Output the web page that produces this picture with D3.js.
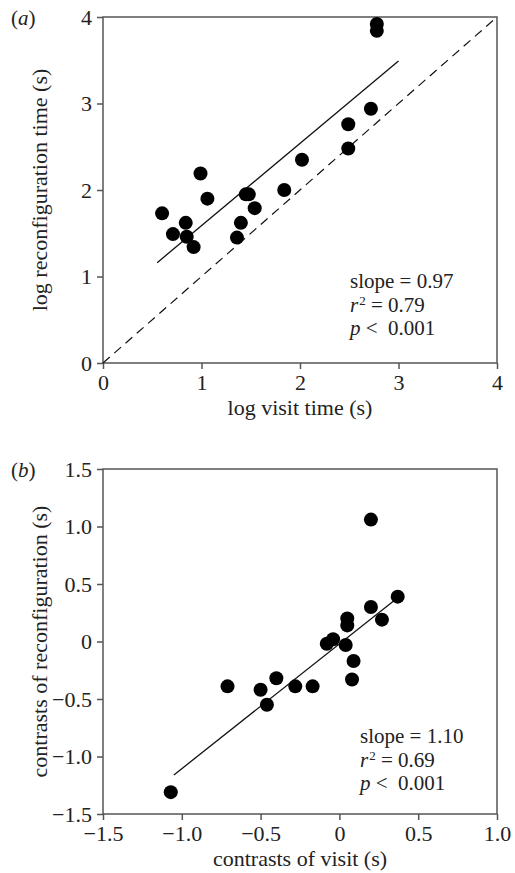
<!DOCTYPE html>
<html>
<head>
<meta charset="utf-8">
<script src="https://cdn.jsdelivr.net/npm/d3@7"></script>
<style>
  body { margin: 0; background: #fff; }
  text { font-family: "Liberation Serif", "DejaVu Serif", serif; fill: #222; }
</style>
</head>
<body>
<div id="chart"></div>
<script>
// panel (a): log visit time vs log reconfiguration time
const visitA = [0.60, 0.71, 0.84, 0.85, 0.92, 0.99, 1.06, 1.36, 1.40, 1.45, 1.48, 1.54, 1.84, 2.02, 2.49, 2.49, 2.72, 2.78, 2.78];
const reconfA = [1.73, 1.49, 1.62, 1.46, 1.34, 2.19, 1.90, 1.45, 1.62, 1.95, 1.95, 1.79, 2.00, 2.35, 2.76, 2.48, 2.94, 3.92, 3.84];
const fitA = [[0.55, 1.16], [3.0, 3.49]];
const identityA = [[0, 0], [4, 4]];
const ticksA = [0, 1, 2, 3, 4];
const statsA = ["slope = 0.97", "0.79", "0.001"];

// panel (b): contrasts
const visitB = [-1.07, -0.71, -0.50, -0.46, -0.40, -0.28, -0.17, -0.08, -0.04, 0.04, 0.05, 0.05, 0.09, 0.08, 0.20, 0.20, 0.27, 0.37];
const reconfB = [-1.31, -0.39, -0.42, -0.55, -0.32, -0.39, -0.39, -0.02, 0.02, -0.03, 0.20, 0.14, -0.17, -0.33, 1.06, 0.30, 0.19, 0.39];
const fitB = [[-1.05, -1.16], [0.37, 0.38]];
const ticksBx = [-1.5, -1.0, -0.5, 0, 0.5, 1.0];
const ticksBy = [-1.5, -1.0, -0.5, 0, 0.5, 1.0, 1.5];
const statsB = ["slope = 1.10", "0.69", "0.001"];

const width = 515, height = 873;
const svg = d3.select("#chart").append("svg")
  .attr("width", width)
  .attr("height", height);

function panel(opts) {
  const x = d3.scaleLinear().domain(opts.xdom).range([103, 497]);
  const y = d3.scaleLinear().domain(opts.ydom).range([opts.bottom, opts.top]);
  const g = svg.append("g");

  // frame
  g.append("rect")
    .attr("x", 103).attr("y", opts.top)
    .attr("width", 394).attr("height", opts.bottom - opts.top)
    .attr("fill", "none").attr("stroke", "#555").attr("stroke-width", 1.5);

  const xa = g.append("g")
    .attr("transform", `translate(0,${opts.bottom})`)
    .call(d3.axisBottom(x).tickValues(opts.xticks).tickSize(6).tickPadding(5).tickFormat(opts.tf));
  const ya = g.append("g")
    .attr("transform", "translate(103,0)")
    .call(d3.axisLeft(y).tickValues(opts.yticks).tickSize(6).tickPadding(5).tickFormat(opts.tf));
  [xa, ya].forEach(a => {
    a.select(".domain").remove();
    a.selectAll("line").attr("stroke", "#555").attr("stroke-width", 1.5);
    a.selectAll("text")
      .style("font-family", "'Liberation Serif', serif")
      .style("font-size", "22px")
      .attr("fill", "#222");
  });

  const line = d3.line().x(d => x(d[0])).y(d => y(d[1]));
  if (opts.identity) {
    g.append("path").attr("d", line(opts.identity))
      .attr("fill", "none").attr("stroke", "#111")
      .attr("stroke-width", 1.2).attr("stroke-dasharray", "9,6");
  }
  g.append("path").attr("d", line(opts.fit))
    .attr("fill", "none").attr("stroke", "#111").attr("stroke-width", 1.3);

  g.selectAll("circle")
    .data(opts.xs.map((v, i) => [v, opts.ys[i]]))
    .join("circle")
    .attr("cx", d => x(d[0]))
    .attr("cy", d => y(d[1]))
    .attr("r", 7)
    .attr("fill", "#000");

  // stats text
  const st = g.append("g").style("font-size", "21px");
  st.append("text").attr("x", opts.sx).attr("y", opts.sy).text(opts.stats[0]);
  const r = st.append("text").attr("x", opts.sx).attr("y", opts.sy + 24);
  r.append("tspan").style("font-style", "italic").text("r");
  r.append("tspan").attr("dx", 1).attr("dy", -7).style("font-size", "13px").text("2");
  r.append("tspan").attr("dy", 7).text(" = " + opts.stats[1]);
  const p = st.append("text").attr("x", opts.sx).attr("y", opts.sy + 47);
  p.append("tspan").style("font-style", "italic").text("p");
  p.append("tspan").text(" <\u00a0\u00a0" + opts.stats[2]);

  // axis titles
  g.append("text")
    .attr("x", 300).attr("y", opts.bottom + 52)
    .attr("text-anchor", "middle")
    .style("font-size", "22px")
    .text(opts.xtitle);
  g.append("text")
    .attr("transform", `translate(47,${(opts.top + opts.bottom) / 2}) rotate(-90)`)
    .attr("text-anchor", "middle")
    .style("font-size", "22px")
    .text(opts.ytitle);

  // panel letter
  const lab = g.append("text").attr("x", 11).attr("y", opts.top + 8).style("font-size", "21px");
  lab.append("tspan").text("(");
  lab.append("tspan").style("font-style", "italic").text(opts.letter);
  lab.append("tspan").text(")");
}

panel({
  xdom: [0, 4], ydom: [0, 4], top: 17, bottom: 363,
  xticks: ticksA, yticks: ticksA, tf: d => String(d),
  xs: visitA, ys: reconfA, fit: fitA, identity: identityA,
  stats: statsA, sx: 350, sy: 288,
  xtitle: "log visit time (s)", ytitle: "log reconfiguration time (s)", letter: "a"
});

panel({
  xdom: [-1.5, 1.0], ydom: [-1.5, 1.5], top: 469, bottom: 814,
  xticks: ticksBx, yticks: ticksBy,
  tf: d => d === 0 ? "0" : d3.format(".1f")(d).replace("-", "\u2212"),
  xs: visitB, ys: reconfB, fit: fitB, identity: null,
  stats: statsB, sx: 360, sy: 743,
  xtitle: "contrasts of visit (s)", ytitle: "contrasts of reconfiguration (s)", letter: "b"
});
</script>
</body>
</html>
